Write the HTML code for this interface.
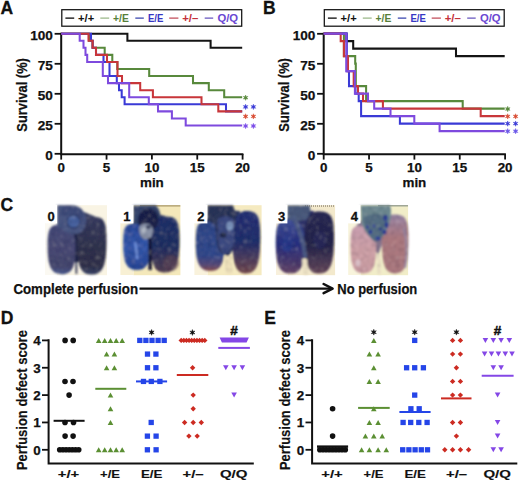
<!DOCTYPE html><html><head><meta charset="utf-8"><style>html,body{margin:0;padding:0;background:#fff;overflow:hidden}svg{display:block}text{font-family:"Liberation Sans",sans-serif;font-weight:bold}</style></head><body>
<svg width="520" height="482" viewBox="0 0 520 482">
<rect width="520" height="482" fill="#fff"/>
<text x="0.6" y="13.7" font-size="17.5" text-anchor="start" fill="#111" stroke="#111" stroke-width="0.3">A</text>
<rect x="61.8" y="9.7" width="179.9" height="16.5" fill="#fff" stroke="#111" stroke-width="1.25"/>
<rect x="65.4" y="17.45" width="8.8" height="1.35" fill="#151515"/>
<text x="78.1" y="21.5" font-size="10.4" text-anchor="start" fill="#111" textLength="16.1" lengthAdjust="spacingAndGlyphs">+/+</text>
<rect x="100.3" y="17.45" width="8.9" height="1.35" fill="#a2bd92"/>
<text x="113.0" y="21.5" font-size="10.4" text-anchor="start" fill="#577f3a" textLength="15.8" lengthAdjust="spacingAndGlyphs">+/E</text>
<rect x="135.3" y="17.45" width="8.5" height="1.35" fill="#4652b4"/>
<text x="148.0" y="21.5" font-size="10.4" text-anchor="start" fill="#3636c4" textLength="15.4" lengthAdjust="spacingAndGlyphs">E/E</text>
<rect x="169.2" y="17.45" width="9.2" height="1.35" fill="#c65a66"/>
<text x="182.2" y="21.5" font-size="10.4" text-anchor="start" fill="#c4303a" textLength="16.2" lengthAdjust="spacingAndGlyphs">+/–</text>
<rect x="204.7" y="17.45" width="8.5" height="1.35" fill="#7262c4"/>
<text x="217.4" y="21.5" font-size="10.4" text-anchor="start" fill="#6a48d2" textLength="20.7" lengthAdjust="spacingAndGlyphs">Q/Q</text>
<path d="M61.2,32.8 V154.2 H243.4" stroke="#111" stroke-width="2" fill="none"/>
<path d="M54.6,33.8 H61.2" stroke="#111" stroke-width="1.8"/>
<text x="52.9" y="39.8" font-size="13.6" text-anchor="end" fill="#111" stroke="#111" stroke-width="0.25">100</text>
<path d="M54.6,63.8 H61.2" stroke="#111" stroke-width="1.8"/>
<text x="52.9" y="69.8" font-size="13.6" text-anchor="end" fill="#111" stroke="#111" stroke-width="0.25">75</text>
<path d="M54.6,93.8 H61.2" stroke="#111" stroke-width="1.8"/>
<text x="52.9" y="99.8" font-size="13.6" text-anchor="end" fill="#111" stroke="#111" stroke-width="0.25">50</text>
<path d="M54.6,123.8 H61.2" stroke="#111" stroke-width="1.8"/>
<text x="52.9" y="129.8" font-size="13.6" text-anchor="end" fill="#111" stroke="#111" stroke-width="0.25">25</text>
<path d="M54.6,153.8 H61.2" stroke="#111" stroke-width="1.8"/>
<text x="52.9" y="159.8" font-size="13.6" text-anchor="end" fill="#111" stroke="#111" stroke-width="0.25">0</text>
<path d="M61.20,154 V159.6" stroke="#111" stroke-width="1.8"/>
<text x="61.2" y="171.9" font-size="13.4" text-anchor="middle" fill="#111" stroke="#111" stroke-width="0.25">0</text>
<path d="M106.55,154 V159.6" stroke="#111" stroke-width="1.8"/>
<text x="106.55000000000001" y="171.9" font-size="13.4" text-anchor="middle" fill="#111" stroke="#111" stroke-width="0.25">5</text>
<path d="M151.90,154 V159.6" stroke="#111" stroke-width="1.8"/>
<text x="151.9" y="171.9" font-size="13.4" text-anchor="middle" fill="#111" stroke="#111" stroke-width="0.25">10</text>
<path d="M197.25,154 V159.6" stroke="#111" stroke-width="1.8"/>
<text x="197.25" y="171.9" font-size="13.4" text-anchor="middle" fill="#111" stroke="#111" stroke-width="0.25">15</text>
<path d="M242.60,154 V159.6" stroke="#111" stroke-width="1.8"/>
<text x="242.60000000000002" y="171.9" font-size="13.4" text-anchor="middle" fill="#111" stroke="#111" stroke-width="0.25">20</text>
<text x="151.9" y="186.5" font-size="13.4" text-anchor="middle" fill="#111" stroke="#111" stroke-width="0.25">min</text>
<text transform="translate(26.5,94.9) rotate(-90)" font-size="13.8" text-anchor="middle" fill="#111" textLength="73.5" lengthAdjust="spacingAndGlyphs" stroke="#111" stroke-width="0.25">Survival (%)</text>
<path d="M61.2,33.70H127.4V40.76H210.6V47.82H242.2" stroke="#141414" stroke-width="2.05" fill="none" stroke-linejoin="miter" stroke-linecap="butt"/>
<path d="M61.2,33.70H89V40.76H92.6V47.82H104.7V54.88H112.3V61.94H117.3V68.99H149.2V76.05H193V83.11H208.8V90.17H224.2V97.23H242.2" stroke="#58893c" stroke-width="2.05" fill="none" stroke-linejoin="miter" stroke-linecap="butt"/>
<path d="M61.2,33.70H91V40.76H92.6V47.82H96V54.88H103.5V61.94H109.5V76.05H116.8V83.11H119V90.17H121.7V97.23H124.6V104.29H226V111.35H242.2" stroke="#3a3ad6" stroke-width="2.05" fill="none" stroke-linejoin="miter" stroke-linecap="butt"/>
<path d="M61.2,33.70H88.5V40.76H92.6V47.82H96V54.88H107V61.94H117.5V76.05H122V83.11H140.2V90.17H152.9V97.23H201.5V104.29H218.3V111.35H242.2" stroke="#c8363a" stroke-width="2.05" fill="none" stroke-linejoin="miter" stroke-linecap="butt"/>
<path d="M61.2,33.70H79.7V40.76H83.5V47.82H85.5V54.88H87.2V61.94H102.8V76.05H108V83.11H129.2V97.23H148.8V104.29H158V111.35H171.9V118.41H185.7V125.46H242.2" stroke="#7e4ade" stroke-width="2.05" fill="none" stroke-linejoin="miter" stroke-linecap="butt"/>
<polygon points="245.60,95.05 246.16,96.74 247.89,96.38 246.71,97.70 247.89,99.03 246.16,98.66 245.60,100.35 245.04,98.66 243.31,99.03 244.49,97.70 243.31,96.38 245.04,96.74" fill="#58893c" stroke="#58893c" stroke-width="0.5" stroke-linejoin="round"/>
<polygon points="245.60,104.25 246.16,105.94 247.89,105.58 246.71,106.90 247.89,108.23 246.16,107.86 245.60,109.55 245.04,107.86 243.31,108.23 244.49,106.90 243.31,105.58 245.04,105.94" fill="#3a3ad6" stroke="#3a3ad6" stroke-width="0.5" stroke-linejoin="round"/>
<polygon points="253.40,104.25 253.96,105.94 255.69,105.58 254.51,106.90 255.69,108.23 253.96,107.86 253.40,109.55 252.84,107.86 251.11,108.23 252.29,106.90 251.11,105.58 252.84,105.94" fill="#3a3ad6" stroke="#3a3ad6" stroke-width="0.5" stroke-linejoin="round"/>
<polygon points="245.60,113.75 246.16,115.44 247.89,115.08 246.71,116.40 247.89,117.73 246.16,117.36 245.60,119.05 245.04,117.36 243.31,117.73 244.49,116.40 243.31,115.08 245.04,115.44" fill="#d84a30" stroke="#d84a30" stroke-width="0.5" stroke-linejoin="round"/>
<polygon points="253.40,113.75 253.96,115.44 255.69,115.08 254.51,116.40 255.69,117.73 253.96,117.36 253.40,119.05 252.84,117.36 251.11,117.73 252.29,116.40 251.11,115.08 252.84,115.44" fill="#d84a30" stroke="#d84a30" stroke-width="0.5" stroke-linejoin="round"/>
<polygon points="245.60,123.35 246.16,125.04 247.89,124.67 246.71,126.00 247.89,127.33 246.16,126.96 245.60,128.65 245.04,126.96 243.31,127.33 244.49,126.00 243.31,124.67 245.04,125.04" fill="#7c4ee8" stroke="#7c4ee8" stroke-width="0.5" stroke-linejoin="round"/>
<polygon points="253.40,123.35 253.96,125.04 255.69,124.67 254.51,126.00 255.69,127.33 253.96,126.96 253.40,128.65 252.84,126.96 251.11,127.33 252.29,126.00 251.11,124.67 252.84,125.04" fill="#7c4ee8" stroke="#7c4ee8" stroke-width="0.5" stroke-linejoin="round"/>
<text x="263.1" y="13.7" font-size="17.5" text-anchor="start" fill="#111" stroke="#111" stroke-width="0.3">B</text>
<rect x="324.3" y="9.7" width="179.9" height="16.5" fill="#fff" stroke="#111" stroke-width="1.25"/>
<rect x="327.9" y="17.45" width="8.8" height="1.35" fill="#151515"/>
<text x="340.6" y="21.5" font-size="10.4" text-anchor="start" fill="#111" textLength="16.1" lengthAdjust="spacingAndGlyphs">+/+</text>
<rect x="362.8" y="17.45" width="8.9" height="1.35" fill="#a2bd92"/>
<text x="375.5" y="21.5" font-size="10.4" text-anchor="start" fill="#577f3a" textLength="15.8" lengthAdjust="spacingAndGlyphs">+/E</text>
<rect x="397.8" y="17.45" width="8.5" height="1.35" fill="#4652b4"/>
<text x="410.5" y="21.5" font-size="10.4" text-anchor="start" fill="#3636c4" textLength="15.4" lengthAdjust="spacingAndGlyphs">E/E</text>
<rect x="431.7" y="17.45" width="9.2" height="1.35" fill="#c65a66"/>
<text x="444.7" y="21.5" font-size="10.4" text-anchor="start" fill="#c4303a" textLength="16.2" lengthAdjust="spacingAndGlyphs">+/–</text>
<rect x="467.2" y="17.45" width="8.5" height="1.35" fill="#7262c4"/>
<text x="479.9" y="21.5" font-size="10.4" text-anchor="start" fill="#6a48d2" textLength="20.7" lengthAdjust="spacingAndGlyphs">Q/Q</text>
<path d="M323.7,32.8 V154.2 H505.9" stroke="#111" stroke-width="2" fill="none"/>
<path d="M317.1,33.8 H323.7" stroke="#111" stroke-width="1.8"/>
<text x="315.4" y="39.8" font-size="13.6" text-anchor="end" fill="#111" stroke="#111" stroke-width="0.25">100</text>
<path d="M317.1,63.8 H323.7" stroke="#111" stroke-width="1.8"/>
<text x="315.4" y="69.8" font-size="13.6" text-anchor="end" fill="#111" stroke="#111" stroke-width="0.25">75</text>
<path d="M317.1,93.8 H323.7" stroke="#111" stroke-width="1.8"/>
<text x="315.4" y="99.8" font-size="13.6" text-anchor="end" fill="#111" stroke="#111" stroke-width="0.25">50</text>
<path d="M317.1,123.8 H323.7" stroke="#111" stroke-width="1.8"/>
<text x="315.4" y="129.8" font-size="13.6" text-anchor="end" fill="#111" stroke="#111" stroke-width="0.25">25</text>
<path d="M317.1,153.8 H323.7" stroke="#111" stroke-width="1.8"/>
<text x="315.4" y="159.8" font-size="13.6" text-anchor="end" fill="#111" stroke="#111" stroke-width="0.25">0</text>
<path d="M323.70,154 V159.6" stroke="#111" stroke-width="1.8"/>
<text x="323.7" y="171.9" font-size="13.4" text-anchor="middle" fill="#111" stroke="#111" stroke-width="0.25">0</text>
<path d="M369.05,154 V159.6" stroke="#111" stroke-width="1.8"/>
<text x="369.05" y="171.9" font-size="13.4" text-anchor="middle" fill="#111" stroke="#111" stroke-width="0.25">5</text>
<path d="M414.40,154 V159.6" stroke="#111" stroke-width="1.8"/>
<text x="414.4" y="171.9" font-size="13.4" text-anchor="middle" fill="#111" stroke="#111" stroke-width="0.25">10</text>
<path d="M459.75,154 V159.6" stroke="#111" stroke-width="1.8"/>
<text x="459.75" y="171.9" font-size="13.4" text-anchor="middle" fill="#111" stroke="#111" stroke-width="0.25">15</text>
<path d="M505.10,154 V159.6" stroke="#111" stroke-width="1.8"/>
<text x="505.1" y="171.9" font-size="13.4" text-anchor="middle" fill="#111" stroke="#111" stroke-width="0.25">20</text>
<text x="414.4" y="186.5" font-size="13.4" text-anchor="middle" fill="#111" stroke="#111" stroke-width="0.25">min</text>
<text transform="translate(289.0,94.9) rotate(-90)" font-size="13.8" text-anchor="middle" fill="#111" textLength="73.5" lengthAdjust="spacingAndGlyphs" stroke="#111" stroke-width="0.25">Survival (%)</text>
<path d="M323.7,33.60H346.4V41.10H353.2V48.60H456V56.10H504.7" stroke="#141414" stroke-width="2.05" fill="none" stroke-linejoin="miter" stroke-linecap="butt"/>
<path d="M323.7,33.60H343.9V56.10H355.2V63.60H355.8V86.10H366.1V101.10H462.7V108.60H504.7" stroke="#58893c" stroke-width="2.05" fill="none" stroke-linejoin="miter" stroke-linecap="butt"/>
<path d="M323.7,33.60H346.8V71.10H349V86.10H355.5V93.60H358.7V101.10H361.1V116.10H399.9V123.60H504.7" stroke="#3a3ad6" stroke-width="2.05" fill="none" stroke-linejoin="miter" stroke-linecap="butt"/>
<path d="M323.7,33.60H340.7V41.10H343.9V56.10H348V71.10H353.7V86.10H358V93.60H363V101.10H382.9V108.60H480.7V116.10H504.7" stroke="#c8363a" stroke-width="2.05" fill="none" stroke-linejoin="miter" stroke-linecap="butt"/>
<path d="M323.7,33.60H346.3V71.10H354.9V93.60H368V101.10H374.2V108.60H390.5V116.10H414.3V123.60H439.6V131.10H504.7" stroke="#7e4ade" stroke-width="2.05" fill="none" stroke-linejoin="miter" stroke-linecap="butt"/>
<polygon points="507.70,106.35 508.26,108.04 509.99,107.67 508.81,109.00 509.99,110.33 508.26,109.96 507.70,111.65 507.14,109.96 505.41,110.33 506.59,109.00 505.41,107.67 507.14,108.04" fill="#58893c" stroke="#58893c" stroke-width="0.5" stroke-linejoin="round"/>
<polygon points="507.70,113.75 508.26,115.44 509.99,115.08 508.81,116.40 509.99,117.73 508.26,117.36 507.70,119.05 507.14,117.36 505.41,117.73 506.59,116.40 505.41,115.08 507.14,115.44" fill="#d84a30" stroke="#d84a30" stroke-width="0.5" stroke-linejoin="round"/>
<polygon points="515.60,113.75 516.16,115.44 517.89,115.08 516.71,116.40 517.89,117.73 516.16,117.36 515.60,119.05 515.04,117.36 513.31,117.73 514.49,116.40 513.31,115.08 515.04,115.44" fill="#d84a30" stroke="#d84a30" stroke-width="0.5" stroke-linejoin="round"/>
<polygon points="507.70,120.95 508.26,122.64 509.99,122.27 508.81,123.60 509.99,124.92 508.26,124.56 507.70,126.25 507.14,124.56 505.41,124.92 506.59,123.60 505.41,122.27 507.14,122.64" fill="#3a3ad6" stroke="#3a3ad6" stroke-width="0.5" stroke-linejoin="round"/>
<polygon points="515.60,120.95 516.16,122.64 517.89,122.27 516.71,123.60 517.89,124.92 516.16,124.56 515.60,126.25 515.04,124.56 513.31,124.92 514.49,123.60 513.31,122.27 515.04,122.64" fill="#3a3ad6" stroke="#3a3ad6" stroke-width="0.5" stroke-linejoin="round"/>
<polygon points="507.70,128.55 508.26,130.24 509.99,129.88 508.81,131.20 509.99,132.52 508.26,132.16 507.70,133.85 507.14,132.16 505.41,132.52 506.59,131.20 505.41,129.88 507.14,130.24" fill="#6a56e8" stroke="#6a56e8" stroke-width="0.5" stroke-linejoin="round"/>
<polygon points="515.60,128.55 516.16,130.24 517.89,129.88 516.71,131.20 517.89,132.52 516.16,132.16 515.60,133.85 515.04,132.16 513.31,132.52 514.49,131.20 513.31,129.88 515.04,130.24" fill="#6a56e8" stroke="#6a56e8" stroke-width="0.5" stroke-linejoin="round"/>
<defs>
<filter id="bl" x="-10%" y="-10%" width="120%" height="120%"><feTurbulence type="fractalNoise" baseFrequency="0.25" numOctaves="3" seed="7" result="n"/><feColorMatrix in="n" type="matrix" values="0 0 0 0 1 0 0 0 0 1 0 0 0 0 1 0.35 0 0 0 -0.2" result="nw"/><feComposite in="nw" in2="SourceGraphic" operator="in" result="sp"/><feColorMatrix in="n" type="matrix" values="0 0 0 0 0 0 0 0 0 0 0 0 0 0 0.05 0 0.6 0 0 -0.22" result="nk"/><feComposite in="nk" in2="SourceGraphic" operator="in" result="sk"/><feMerge result="m"><feMergeNode in="SourceGraphic"/><feMergeNode in="sp"/><feMergeNode in="sk"/></feMerge><feGaussianBlur in="m" stdDeviation="0.8"/></filter>
<filter id="bl2" x="-50%" y="-50%" width="200%" height="200%"><feGaussianBlur stdDeviation="1.6"/></filter>
<linearGradient id="g0L" x1="0" y1="0" x2="0" y2="1"><stop offset="0" stop-color="#474c7a"/><stop offset="0.5" stop-color="#484a74"/><stop offset="0.85" stop-color="#46486e"/><stop offset="1" stop-color="#4a5a92"/></linearGradient>
<linearGradient id="g0R" x1="0" y1="0" x2="0" y2="1"><stop offset="0" stop-color="#383c60"/><stop offset="0.5" stop-color="#32344e"/><stop offset="0.85" stop-color="#30324a"/><stop offset="1" stop-color="#3a4468"/></linearGradient>
<linearGradient id="g1L" x1="0" y1="0" x2="0" y2="1"><stop offset="0" stop-color="#2c4a9a"/><stop offset="0.5" stop-color="#3558ac"/><stop offset="1" stop-color="#2a4896"/></linearGradient>
<linearGradient id="g1R" x1="0" y1="0" x2="0" y2="1"><stop offset="0" stop-color="#24326a"/><stop offset="0.55" stop-color="#243062"/><stop offset="1" stop-color="#544050"/></linearGradient>
<linearGradient id="g2L" x1="0" y1="0" x2="0" y2="1"><stop offset="0" stop-color="#30488a"/><stop offset="0.68" stop-color="#32488c"/><stop offset="0.88" stop-color="#5a4c78"/><stop offset="1" stop-color="#8a5050"/></linearGradient>
<linearGradient id="g2R" x1="0" y1="0" x2="0" y2="1"><stop offset="0" stop-color="#263476"/><stop offset="0.5" stop-color="#24306c"/><stop offset="0.75" stop-color="#4e3e5e"/><stop offset="1" stop-color="#764a4c"/></linearGradient>
<linearGradient id="g3L" x1="0" y1="0" x2="0" y2="1"><stop offset="0" stop-color="#44549a"/><stop offset="0.45" stop-color="#283080"/><stop offset="0.78" stop-color="#4a3a6e"/><stop offset="1" stop-color="#684868"/></linearGradient>
<linearGradient id="g3R" x1="0" y1="0" x2="0" y2="1"><stop offset="0" stop-color="#2a2a54"/><stop offset="0.55" stop-color="#26264a"/><stop offset="0.8" stop-color="#4a3a54"/><stop offset="1" stop-color="#684858"/></linearGradient>
<linearGradient id="g4L" x1="0" y1="0" x2="0" y2="1"><stop offset="0" stop-color="#c89eb0"/><stop offset="0.5" stop-color="#d0a2a8"/><stop offset="1" stop-color="#cc9ea4"/></linearGradient>
<linearGradient id="g4R" x1="0" y1="0" x2="0" y2="1"><stop offset="0" stop-color="#9a86a6"/><stop offset="0.4" stop-color="#ae7a80"/><stop offset="1" stop-color="#aa787e"/></linearGradient>
</defs>
<rect x="57" y="205.2" width="50" height="70" fill="#f9f4e4"/>
<rect x="133.4" y="205.2" width="47" height="70" fill="#f4e8ba"/>
<rect x="207.4" y="205.2" width="54.2" height="70" fill="#f5eac0"/>
<rect x="287.4" y="205.2" width="47.7" height="70" fill="#f3e9cc"/>
<rect x="360.4" y="205.2" width="47.7" height="70" fill="#f1edc8"/>
<rect x="45" y="223" width="12" height="52" fill="#fbf9f2"/>
<rect x="120.4" y="223" width="13" height="52" fill="#f8f0d4"/>
<rect x="194.4" y="223" width="13" height="52" fill="#f9f2dc"/>
<rect x="276" y="223" width="11.4" height="52" fill="#f8f0dc"/>
<rect x="348.2" y="223" width="12.2" height="52" fill="#f8f4dc"/>
<path d="M140,205.8H180.3" stroke="#a89868" stroke-width="1.2"/>
<path d="M305,206H335" stroke="#6a6050" stroke-width="1" stroke-dasharray="1 1"/>
<path d="M378,205.8H408" stroke="#8a9488" stroke-width="1.2"/>
<g filter="url(#bl)">
<polygon points="60,222 70,212 84,212 95,216.5 90,240 77,262 70,240" fill="#3a4064"/>
<polygon points="130,226 148,212 165,216 160,240 150,265 140,240" fill="#1e2a5a"/>
<polygon points="203,222 220,210 240,211 236,245 228,257 215,245" fill="#2c3460"/>
<polygon points="283,223 296,210 314,211 310,245 305,258 296,245" fill="#30346a"/>
<polygon points="356,226 370,212 387,214 384,240 378,255 370,240" fill="#8a7890"/>
<path d="M70,228 L84,226 L80,262 L74,262Z" fill="#22284a"/>
<path d="M61.0,224.5C50.3,224.5 47.6,227.6 47.6,245.4C47.6,265.0 50.4,274.2 61.6,274.2C72.1,274.2 75.6,267.4 75.6,246.9C75.6,231.2 69.8,224.5 61.0,224.5Z" fill="url(#g0L)"/>
<path d="M93.5,216.8C103.8,216.8 106.4,220.4 106.4,241.1C106.4,263.9 103.5,274.6 91.8,274.6C80.9,274.6 77.2,266.7 77.2,242.8C77.2,224.6 83.7,216.8 93.5,216.8Z" fill="url(#g0R)"/>
<path d="M57.2,205.3 L73,205.3 C80.5,206 85.5,212 86.3,220 C86.5,226 83.5,231 79,233.5 L70,234.5 C64,232.5 60,229 57.2,225Z" fill="#4a5682"/>
<path d="M62,207 C70,206 78,207 83,213 L84,222 C78,216 68,214 62,216Z" fill="#3c4a78" opacity=".7"/>
<circle cx="73.5" cy="221.5" r="7.2" fill="#2e3a66"/>
<circle cx="73.5" cy="221.5" r="6.0" fill="#4a64a0"/>
<path d="M76.2,234 L76.4,274" stroke="#24284a" stroke-width="1.6"/>
<path d="M133.4,205.5 L156,205.5 C162,211 162,224 158,231 L152,242 L146,242 L133.4,232Z" fill="#34446c"/>
<path d="M134.0,223.8C125.4,223.8 123.2,226.7 123.2,243.2C123.2,261.4 125.9,270.0 136.8,270.0C147.0,270.0 150.4,263.6 150.4,244.6C150.4,230.0 143.8,223.8 134.0,223.8Z" fill="url(#g1L)"/>
<path d="M165.0,216.4C176.5,216.4 179.4,219.9 179.4,240.0C179.4,262.1 176.5,272.5 165.0,272.5C154.2,272.5 150.6,264.8 150.6,241.6C150.6,224.0 156.4,216.4 165.0,216.4Z" fill="url(#g1R)"/>
<ellipse cx="171" cy="263" rx="8" ry="8" fill="#604654" opacity=".55"/>
<path d="M138,221 C138,213 143,208.5 148.5,208.5 C154,208.5 158.5,213 158.5,221 C158.5,226 154,229.5 148.5,229.5 C143,229.5 138,226 138,221Z" fill="#1a2248"/>
<path d="M139,229 C139,225 142,223.5 146,223.5 C150,223.5 153,226 153,231 C153,236 150,239.5 146,239.5 C142,239.5 139,235 139,229Z" fill="#8a93a8"/>
<ellipse cx="144" cy="230" rx="2.4" ry="2.8" fill="#b8c0cc"/>
<ellipse cx="148.5" cy="227" rx="2.6" ry="2" fill="#3a4260"/>
<path d="M149.8,238 L150.2,270" stroke="#141830" stroke-width="3.2"/>
<path d="M135.3,242 L137.3,259" stroke="#7090da" stroke-width="2.4" fill="none"/>
<path d="M207.0,221.4C198.0,221.4 195.8,224.5 195.8,242.2C195.8,261.8 198.7,271.0 210.1,271.0C220.8,271.0 224.4,264.2 224.4,243.7C224.4,228.1 217.4,221.4 207.0,221.4Z" fill="url(#g2L)"/>
<path d="M246.0,211.0C257.4,211.0 260.2,214.9 260.2,237.3C260.2,262.0 257.4,273.6 246.3,273.6C236.0,273.6 232.5,265.0 232.5,239.2C232.5,219.5 237.9,211.0 246.0,211.0Z" fill="url(#g2R)"/>
<path d="M207.4,205.4 L233,205.4 C236,211 235.5,220 234.5,226 L234,244 C232,251 228,254.5 224,254.5 C219,253 216.5,246 216.3,236 L215,224 C212,223 209,222 207.4,221Z" fill="#2c3458"/>
<path d="M217.5,220 C221,215 230,215 234,220 L234,242 C232,250 228,254 224,254 C220,251 217.5,244 217.5,236Z" fill="#3e4c82"/>
<ellipse cx="229.8" cy="226" rx="3.6" ry="4.6" fill="#8098c0"/>
<ellipse cx="223" cy="235" rx="3.4" ry="2.6" fill="#222a48"/>
<path d="M224.4,256 C225,264 225.5,270 226,274 L232.5,274 C232.2,268 232,262 232,256Z" fill="#f0e2bc"/>
<path d="M291.0,219.5C278.8,219.5 275.8,222.9 275.8,242.2C275.8,263.6 278.7,273.6 290.2,273.6C301.0,273.6 304.6,266.2 304.6,243.8C304.6,226.8 299.2,219.5 291.0,219.5Z" fill="url(#g3L)"/>
<path d="M318.0,211.4C330.8,211.4 334.0,215.3 334.0,237.5C334.0,262.1 331.0,273.6 319.2,273.6C308.1,273.6 304.4,265.0 304.4,239.4C304.4,219.8 309.8,211.4 318.0,211.4Z" fill="url(#g3R)"/>
<path d="M287.4,205.5 L309.5,205.5 C311,209 310,215 307,219 C301,222 292,221.5 287.4,219Z" fill="#4c5c7e"/>
<path d="M293,217 C299,228 304,242 305.3,258" stroke="#4e5c86" stroke-width="4.2" fill="none"/>
<path d="M302,259 C302.5,266 303,271 303.5,274.5 L308.2,274.5 C307.8,270 307.6,265 307.2,259Z" fill="#efe4c6"/>
<ellipse cx="320" cy="240" rx="7" ry="9" fill="#2a2c5c" opacity=".8"/>
<ellipse cx="287" cy="244" rx="6" ry="8" fill="#2c3c8c" opacity=".8"/>
<path d="M360.0,226.0C352.4,226.0 350.5,229.0 350.5,245.9C350.5,264.6 353.1,273.4 363.2,273.4C372.8,273.4 376.0,266.9 376.0,247.3C376.0,232.4 369.6,226.0 360.0,226.0Z" fill="url(#g4L)"/>
<path d="M394.0,214.6C405.5,214.6 408.4,218.3 408.4,239.3C408.4,262.5 405.8,273.4 395.2,273.4C385.3,273.4 382.0,265.3 382.0,241.1C382.0,222.5 386.8,214.6 394.0,214.6Z" fill="url(#g4R)"/>
<path d="M404,228 C407,240 407.5,256 405,268" stroke="#9a90b0" stroke-width="2.5" fill="none" opacity=".7"/>
<ellipse cx="358" cy="263" rx="2.6" ry="3.5" fill="#e0c8d0" opacity=".8"/>
<path d="M360.5,205.5 L390,205.5 C392,211 391,219 388.5,226 C385,234 381,240 376,242 C370,239 364.5,231 361.5,223Z" fill="#6e8a92"/>
<path d="M363,218 C369,213.5 382,212.5 388,217 C387.5,227 383,236 376,242 C370,239 365.5,231 363,218Z" fill="#4e6680" opacity=".8"/>
<ellipse cx="385.5" cy="218" rx="2.2" ry="3" fill="#2c3c98"/>
<ellipse cx="386.5" cy="225" rx="1.8" ry="3.2" fill="#2c3c98"/>
<ellipse cx="384.5" cy="232" rx="2" ry="2.6" fill="#2c3c98"/>
<ellipse cx="378" cy="238.5" rx="2.6" ry="2" fill="#2c3c98"/>
<ellipse cx="370.5" cy="232" rx="1.8" ry="2.2" fill="#2c3c98"/>
<ellipse cx="367.5" cy="227" rx="1.5" ry="1.8" fill="#2c3c98"/>
<ellipse cx="380.5" cy="229" rx="1.6" ry="1.6" fill="#2c3c98"/>
<ellipse cx="374" cy="226" rx="1.4" ry="1.4" fill="#2c3c98"/>
<path d="M376.3,254 C377,264 377.5,270 378,274.5 L381.5,274.5 C381,268 380.6,262 380.2,254Z" fill="#eee4c8"/>
</g>
<rect x="45.3" y="205" width="11.8" height="18.4" fill="#fff"/>
<text x="51.20" y="221" font-size="13" text-anchor="middle" fill="#111" stroke="#111" stroke-width="0.3">0</text>
<rect x="120.4" y="205" width="13" height="18.4" fill="#fff"/>
<text x="126.90" y="221" font-size="13" text-anchor="middle" fill="#111" stroke="#111" stroke-width="0.3">1</text>
<rect x="194.4" y="205" width="13" height="18.4" fill="#fff"/>
<text x="200.90" y="221" font-size="13" text-anchor="middle" fill="#111" stroke="#111" stroke-width="0.3">2</text>
<rect x="276" y="205" width="11.4" height="18.4" fill="#fff"/>
<text x="281.70" y="221" font-size="13" text-anchor="middle" fill="#111" stroke="#111" stroke-width="0.3">3</text>
<rect x="348.2" y="205" width="12.2" height="18.4" fill="#fff"/>
<text x="354.30" y="221" font-size="13" text-anchor="middle" fill="#111" stroke="#111" stroke-width="0.3">4</text>
<text x="0.6" y="211.2" font-size="17.5" fill="#111" stroke="#111" stroke-width="0.3">C</text>
<text x="13.4" y="293.9" font-size="14.6" fill="#111" textLength="124.6" lengthAdjust="spacingAndGlyphs" stroke="#111" stroke-width="0.25">Complete perfusion</text>
<path d="M139.5,288.6 H331" stroke="#111" stroke-width="2.3"/>
<path d="M323.6,284 L332.6,288.6 L323.6,293.2" stroke="#111" stroke-width="2.5" fill="none" stroke-linecap="round" stroke-linejoin="round"/>
<text x="337.3" y="293.7" font-size="14.6" fill="#111" textLength="80" lengthAdjust="spacingAndGlyphs" stroke="#111" stroke-width="0.25">No perfusion</text>
<text x="0.70" y="323.80" font-size="17.5" text-anchor="start" fill="#111" stroke="#111" stroke-width="0.3">D</text>
<path d="M48.6,339.2 V463.6 H253.8" stroke="#111" stroke-width="2" fill="none"/>
<path d="M42,449.80 H48.6" stroke="#111" stroke-width="1.8"/>
<text x="40.60" y="454.60" font-size="13.4" text-anchor="end" fill="#111" stroke="#111" stroke-width="0.25">0</text>
<path d="M42,422.45 H48.6" stroke="#111" stroke-width="1.8"/>
<text x="40.60" y="427.25" font-size="13.4" text-anchor="end" fill="#111" stroke="#111" stroke-width="0.25">1</text>
<path d="M42,395.10 H48.6" stroke="#111" stroke-width="1.8"/>
<text x="40.60" y="399.90" font-size="13.4" text-anchor="end" fill="#111" stroke="#111" stroke-width="0.25">2</text>
<path d="M42,367.75 H48.6" stroke="#111" stroke-width="1.8"/>
<text x="40.60" y="372.55" font-size="13.4" text-anchor="end" fill="#111" stroke="#111" stroke-width="0.25">3</text>
<path d="M42,340.40 H48.6" stroke="#111" stroke-width="1.8"/>
<text x="40.60" y="345.20" font-size="13.4" text-anchor="end" fill="#111" stroke="#111" stroke-width="0.25">4</text>
<text transform="translate(26.6,400.1) rotate(-90)" font-size="14.2" text-anchor="middle" fill="#111" textLength="140" lengthAdjust="spacingAndGlyphs" stroke="#111" stroke-width="0.2">Perfusion defect score</text>
<text x="68.50" y="477.80" font-size="11.6" text-anchor="middle" fill="#111" textLength="21.5" lengthAdjust="spacingAndGlyphs" stroke="#111" stroke-width="0.15">+/+</text>
<text x="110.10" y="477.80" font-size="11.6" text-anchor="middle" fill="#111" textLength="20" lengthAdjust="spacingAndGlyphs" stroke="#111" stroke-width="0.15">+/E</text>
<text x="151.70" y="477.80" font-size="11.6" text-anchor="middle" fill="#111" textLength="21.5" lengthAdjust="spacingAndGlyphs" stroke="#111" stroke-width="0.15">E/E</text>
<text x="193.10" y="477.80" font-size="11.6" text-anchor="middle" fill="#111" textLength="21.2" lengthAdjust="spacingAndGlyphs" stroke="#111" stroke-width="0.15">+/–</text>
<text x="233.70" y="477.80" font-size="11.6" text-anchor="middle" fill="#111" textLength="27.5" lengthAdjust="spacingAndGlyphs" stroke="#111" stroke-width="0.15">Q/Q</text>
<circle cx="65.10" cy="340.40" r="2.8" fill="#111"/>
<circle cx="73.20" cy="340.40" r="2.8" fill="#111"/>
<circle cx="65.00" cy="381.43" r="2.8" fill="#111"/>
<circle cx="73.00" cy="381.43" r="2.8" fill="#111"/>
<circle cx="69.10" cy="395.10" r="2.8" fill="#111"/>
<circle cx="65.00" cy="422.45" r="2.8" fill="#111"/>
<circle cx="73.50" cy="422.45" r="2.8" fill="#111"/>
<circle cx="65.10" cy="436.12" r="2.8" fill="#111"/>
<circle cx="73.10" cy="436.12" r="2.8" fill="#111"/>
<circle cx="59.70" cy="449.80" r="2.8" fill="#111"/>
<circle cx="62.87" cy="449.80" r="2.8" fill="#111"/>
<circle cx="66.04" cy="449.80" r="2.8" fill="#111"/>
<circle cx="69.21" cy="449.80" r="2.8" fill="#111"/>
<circle cx="72.38" cy="449.80" r="2.8" fill="#111"/>
<circle cx="75.55" cy="449.80" r="2.8" fill="#111"/>
<circle cx="78.72" cy="449.80" r="2.8" fill="#111"/>
<path d="M53.60,420.80H84.60" stroke="#111" stroke-width="2.0"/>
<path d="M95.90,342.90L101.50,342.90L98.70,337.90Z" fill="#5b8f33"/>
<path d="M101.90,342.90L107.50,342.90L104.70,337.90Z" fill="#5b8f33"/>
<path d="M107.70,342.90L113.30,342.90L110.50,337.90Z" fill="#5b8f33"/>
<path d="M113.40,342.90L119.00,342.90L116.20,337.90Z" fill="#5b8f33"/>
<path d="M119.40,342.90L125.00,342.90L122.20,337.90Z" fill="#5b8f33"/>
<path d="M103.80,356.57L109.40,356.57L106.60,351.57Z" fill="#5b8f33"/>
<path d="M111.60,356.57L117.20,356.57L114.40,351.57Z" fill="#5b8f33"/>
<path d="M103.80,370.25L109.40,370.25L106.60,365.25Z" fill="#5b8f33"/>
<path d="M111.60,370.25L117.20,370.25L114.40,365.25Z" fill="#5b8f33"/>
<path d="M107.70,397.60L113.30,397.60L110.50,392.60Z" fill="#5b8f33"/>
<path d="M107.70,411.27L113.30,411.27L110.50,406.27Z" fill="#5b8f33"/>
<path d="M107.70,424.95L113.30,424.95L110.50,419.95Z" fill="#5b8f33"/>
<path d="M95.90,452.30L101.50,452.30L98.70,447.30Z" fill="#5b8f33"/>
<path d="M101.90,452.30L107.50,452.30L104.70,447.30Z" fill="#5b8f33"/>
<path d="M107.70,452.30L113.30,452.30L110.50,447.30Z" fill="#5b8f33"/>
<path d="M113.40,452.30L119.00,452.30L116.20,447.30Z" fill="#5b8f33"/>
<path d="M119.40,452.30L125.00,452.30L122.20,447.30Z" fill="#5b8f33"/>
<path d="M95.30,388.80H126.30" stroke="#5b8f33" stroke-width="2.0"/>
<rect x="137.15" y="337.75" width="5.3" height="5.3" fill="#2545e8"/>
<rect x="143.25" y="337.75" width="5.3" height="5.3" fill="#2545e8"/>
<rect x="149.35" y="337.75" width="5.3" height="5.3" fill="#2545e8"/>
<rect x="155.45" y="337.75" width="5.3" height="5.3" fill="#2545e8"/>
<rect x="161.55" y="337.75" width="5.3" height="5.3" fill="#2545e8"/>
<rect x="144.85" y="351.43" width="5.3" height="5.3" fill="#2545e8"/>
<rect x="153.25" y="351.43" width="5.3" height="5.3" fill="#2545e8"/>
<rect x="144.85" y="365.10" width="5.3" height="5.3" fill="#2545e8"/>
<rect x="153.25" y="365.10" width="5.3" height="5.3" fill="#2545e8"/>
<rect x="148.55" y="419.80" width="5.3" height="5.3" fill="#2545e8"/>
<rect x="144.75" y="433.48" width="5.3" height="5.3" fill="#2545e8"/>
<rect x="153.45" y="433.48" width="5.3" height="5.3" fill="#2545e8"/>
<rect x="144.75" y="447.15" width="5.3" height="5.3" fill="#2545e8"/>
<rect x="153.45" y="447.15" width="5.3" height="5.3" fill="#2545e8"/>
<path d="M136.00,381.43H167.10" stroke="#2545e8" stroke-width="2.0"/>
<rect x="140.85" y="378.78" width="5.3" height="5.3" fill="#2545e8"/>
<rect x="148.65" y="378.78" width="5.3" height="5.3" fill="#2545e8"/>
<rect x="157.25" y="378.78" width="5.3" height="5.3" fill="#2545e8"/>
<polygon points="151.60,329.50 152.21,331.35 154.11,330.95 152.82,332.40 154.11,333.85 152.21,333.45 151.60,335.30 150.99,333.45 149.09,333.85 150.38,332.40 149.09,330.95 150.99,331.35" fill="#111" stroke="#111" stroke-width="0.5" stroke-linejoin="round"/>
<path d="M181.20,337.70L183.90,340.40L181.20,343.10L178.50,340.40Z" fill="#cc2b22"/>
<path d="M183.82,337.70L186.52,340.40L183.82,343.10L181.12,340.40Z" fill="#cc2b22"/>
<path d="M186.44,337.70L189.14,340.40L186.44,343.10L183.74,340.40Z" fill="#cc2b22"/>
<path d="M189.06,337.70L191.76,340.40L189.06,343.10L186.36,340.40Z" fill="#cc2b22"/>
<path d="M191.68,337.70L194.38,340.40L191.68,343.10L188.98,340.40Z" fill="#cc2b22"/>
<path d="M194.30,337.70L197.00,340.40L194.30,343.10L191.60,340.40Z" fill="#cc2b22"/>
<path d="M196.92,337.70L199.62,340.40L196.92,343.10L194.22,340.40Z" fill="#cc2b22"/>
<path d="M199.54,337.70L202.24,340.40L199.54,343.10L196.84,340.40Z" fill="#cc2b22"/>
<path d="M202.16,337.70L204.86,340.40L202.16,343.10L199.46,340.40Z" fill="#cc2b22"/>
<path d="M204.78,337.70L207.48,340.40L204.78,343.10L202.08,340.40Z" fill="#cc2b22"/>
<path d="M192.60,365.05L195.30,367.75L192.60,370.45L189.90,367.75Z" fill="#cc2b22"/>
<path d="M193.20,392.40L195.90,395.10L193.20,397.80L190.50,395.10Z" fill="#cc2b22"/>
<path d="M193.20,406.07L195.90,408.77L193.20,411.47L190.50,408.77Z" fill="#cc2b22"/>
<path d="M184.60,419.75L187.30,422.45L184.60,425.15L181.90,422.45Z" fill="#cc2b22"/>
<path d="M193.20,419.75L195.90,422.45L193.20,425.15L190.50,422.45Z" fill="#cc2b22"/>
<path d="M201.30,419.75L204.00,422.45L201.30,425.15L198.60,422.45Z" fill="#cc2b22"/>
<path d="M188.90,433.43L191.60,436.12L188.90,438.82L186.20,436.12Z" fill="#cc2b22"/>
<path d="M197.20,433.43L199.90,436.12L197.20,438.82L194.50,436.12Z" fill="#cc2b22"/>
<path d="M176.80,375.00H208.30" stroke="#cc2b22" stroke-width="2.0"/>
<polygon points="192.40,329.60 193.01,331.45 194.91,331.05 193.62,332.50 194.91,333.95 193.01,333.55 192.40,335.40 191.79,333.55 189.89,333.95 191.18,332.50 189.89,331.05 191.79,331.45" fill="#111" stroke="#111" stroke-width="0.5" stroke-linejoin="round"/>
<path d="M219.6,337.5 H248.9 L246.6,342.5 H221.9Z" fill="#8447e6"/>
<path d="M223.00,365.25L228.60,365.25L225.80,370.25Z" fill="#8447e6"/>
<path d="M231.30,365.25L236.90,365.25L234.10,370.25Z" fill="#8447e6"/>
<path d="M239.60,365.25L245.20,365.25L242.40,370.25Z" fill="#8447e6"/>
<path d="M231.30,392.60L236.90,392.60L234.10,397.60Z" fill="#8447e6"/>
<path d="M218.30,347.90H249.90" stroke="#8447e6" stroke-width="2.0"/>
<text x="233.90" y="334.70" font-size="13.5" text-anchor="middle" fill="#111" stroke="#111" stroke-width="0.5">#</text>
<text x="264.20" y="323.80" font-size="17.5" text-anchor="start" fill="#111" stroke="#111" stroke-width="0.3">E</text>
<path d="M312.1,339.2 V463.6 H517.3" stroke="#111" stroke-width="2" fill="none"/>
<path d="M305.5,449.80 H312.1" stroke="#111" stroke-width="1.8"/>
<text x="304.10" y="454.60" font-size="13.4" text-anchor="end" fill="#111" stroke="#111" stroke-width="0.25">0</text>
<path d="M305.5,422.45 H312.1" stroke="#111" stroke-width="1.8"/>
<text x="304.10" y="427.25" font-size="13.4" text-anchor="end" fill="#111" stroke="#111" stroke-width="0.25">1</text>
<path d="M305.5,395.10 H312.1" stroke="#111" stroke-width="1.8"/>
<text x="304.10" y="399.90" font-size="13.4" text-anchor="end" fill="#111" stroke="#111" stroke-width="0.25">2</text>
<path d="M305.5,367.75 H312.1" stroke="#111" stroke-width="1.8"/>
<text x="304.10" y="372.55" font-size="13.4" text-anchor="end" fill="#111" stroke="#111" stroke-width="0.25">3</text>
<path d="M305.5,340.40 H312.1" stroke="#111" stroke-width="1.8"/>
<text x="304.10" y="345.20" font-size="13.4" text-anchor="end" fill="#111" stroke="#111" stroke-width="0.25">4</text>
<text transform="translate(290.1,400.1) rotate(-90)" font-size="14.2" text-anchor="middle" fill="#111" textLength="140" lengthAdjust="spacingAndGlyphs" stroke="#111" stroke-width="0.2">Perfusion defect score</text>
<text x="332.00" y="477.80" font-size="11.6" text-anchor="middle" fill="#111" textLength="21.5" lengthAdjust="spacingAndGlyphs" stroke="#111" stroke-width="0.15">+/+</text>
<text x="373.60" y="477.80" font-size="11.6" text-anchor="middle" fill="#111" textLength="20" lengthAdjust="spacingAndGlyphs" stroke="#111" stroke-width="0.15">+/E</text>
<text x="415.20" y="477.80" font-size="11.6" text-anchor="middle" fill="#111" textLength="21.5" lengthAdjust="spacingAndGlyphs" stroke="#111" stroke-width="0.15">E/E</text>
<text x="456.60" y="477.80" font-size="11.6" text-anchor="middle" fill="#111" textLength="21.2" lengthAdjust="spacingAndGlyphs" stroke="#111" stroke-width="0.15">+/–</text>
<text x="497.20" y="477.80" font-size="11.6" text-anchor="middle" fill="#111" textLength="27.5" lengthAdjust="spacingAndGlyphs" stroke="#111" stroke-width="0.15">Q/Q</text>
<circle cx="332.60" cy="408.77" r="2.8" fill="#111"/>
<circle cx="332.60" cy="436.12" r="2.8" fill="#111"/>
<circle cx="319.80" cy="449.80" r="2.8" fill="#111"/>
<circle cx="322.99" cy="449.80" r="2.8" fill="#111"/>
<circle cx="326.18" cy="449.80" r="2.8" fill="#111"/>
<circle cx="329.37" cy="449.80" r="2.8" fill="#111"/>
<circle cx="332.56" cy="449.80" r="2.8" fill="#111"/>
<circle cx="335.75" cy="449.80" r="2.8" fill="#111"/>
<circle cx="338.94" cy="449.80" r="2.8" fill="#111"/>
<circle cx="342.13" cy="449.80" r="2.8" fill="#111"/>
<circle cx="345.32" cy="449.80" r="2.8" fill="#111"/>
<path d="M317.00,446.60H348.10" stroke="#111" stroke-width="2.4"/>
<path d="M371.00,342.90L376.60,342.90L373.80,337.90Z" fill="#5b8f33"/>
<path d="M366.60,356.57L372.20,356.57L369.40,351.57Z" fill="#5b8f33"/>
<path d="M375.30,356.57L380.90,356.57L378.10,351.57Z" fill="#5b8f33"/>
<path d="M371.00,370.25L376.60,370.25L373.80,365.25Z" fill="#5b8f33"/>
<path d="M366.60,383.93L372.20,383.93L369.40,378.93Z" fill="#5b8f33"/>
<path d="M375.30,383.93L380.90,383.93L378.10,378.93Z" fill="#5b8f33"/>
<path d="M371.00,411.27L376.60,411.27L373.80,406.27Z" fill="#5b8f33"/>
<path d="M366.60,424.95L372.20,424.95L369.40,419.95Z" fill="#5b8f33"/>
<path d="M375.30,424.95L380.90,424.95L378.10,419.95Z" fill="#5b8f33"/>
<path d="M362.60,438.62L368.20,438.62L365.40,433.62Z" fill="#5b8f33"/>
<path d="M371.00,438.62L376.60,438.62L373.80,433.62Z" fill="#5b8f33"/>
<path d="M379.40,438.62L385.00,438.62L382.20,433.62Z" fill="#5b8f33"/>
<path d="M358.80,452.30L364.40,452.30L361.60,447.30Z" fill="#5b8f33"/>
<path d="M366.60,452.30L372.20,452.30L369.40,447.30Z" fill="#5b8f33"/>
<path d="M375.30,452.30L380.90,452.30L378.10,447.30Z" fill="#5b8f33"/>
<path d="M383.50,452.30L389.10,452.30L386.30,447.30Z" fill="#5b8f33"/>
<path d="M358.10,407.90H389.70" stroke="#5b8f33" stroke-width="2.0"/>
<polygon points="373.80,329.30 374.41,331.15 376.31,330.75 375.02,332.20 376.31,333.65 374.41,333.25 373.80,335.10 373.19,333.25 371.29,333.65 372.58,332.20 371.29,330.75 373.19,331.15" fill="#111" stroke="#111" stroke-width="0.5" stroke-linejoin="round"/>
<rect x="412.05" y="337.75" width="5.3" height="5.3" fill="#2545e8"/>
<rect x="403.95" y="365.10" width="5.3" height="5.3" fill="#2545e8"/>
<rect x="412.05" y="365.10" width="5.3" height="5.3" fill="#2545e8"/>
<rect x="420.75" y="365.10" width="5.3" height="5.3" fill="#2545e8"/>
<rect x="412.05" y="392.45" width="5.3" height="5.3" fill="#2545e8"/>
<rect x="408.25" y="406.12" width="5.3" height="5.3" fill="#2545e8"/>
<rect x="416.55" y="406.12" width="5.3" height="5.3" fill="#2545e8"/>
<rect x="400.45" y="419.80" width="5.3" height="5.3" fill="#2545e8"/>
<rect x="408.05" y="419.80" width="5.3" height="5.3" fill="#2545e8"/>
<rect x="416.15" y="419.80" width="5.3" height="5.3" fill="#2545e8"/>
<rect x="424.45" y="419.80" width="5.3" height="5.3" fill="#2545e8"/>
<rect x="400.05" y="447.15" width="5.3" height="5.3" fill="#2545e8"/>
<rect x="406.25" y="447.15" width="5.3" height="5.3" fill="#2545e8"/>
<rect x="412.45" y="447.15" width="5.3" height="5.3" fill="#2545e8"/>
<rect x="418.65" y="447.15" width="5.3" height="5.3" fill="#2545e8"/>
<rect x="424.85" y="447.15" width="5.3" height="5.3" fill="#2545e8"/>
<path d="M399.40,412.00H430.60" stroke="#2545e8" stroke-width="2.0"/>
<polygon points="414.70,329.30 415.31,331.15 417.21,330.75 415.92,332.20 417.21,333.65 415.31,333.25 414.70,335.10 414.09,333.25 412.19,333.65 413.48,332.20 412.19,330.75 414.09,331.15" fill="#111" stroke="#111" stroke-width="0.5" stroke-linejoin="round"/>
<path d="M452.60,337.70L455.30,340.40L452.60,343.10L449.90,340.40Z" fill="#cc2b22"/>
<path d="M460.40,337.70L463.10,340.40L460.40,343.10L457.70,340.40Z" fill="#cc2b22"/>
<path d="M452.60,351.38L455.30,354.07L452.60,356.77L449.90,354.07Z" fill="#cc2b22"/>
<path d="M460.40,351.38L463.10,354.07L460.40,356.77L457.70,354.07Z" fill="#cc2b22"/>
<path d="M456.40,365.05L459.10,367.75L456.40,370.45L453.70,367.75Z" fill="#cc2b22"/>
<path d="M452.60,378.73L455.30,381.43L452.60,384.12L449.90,381.43Z" fill="#cc2b22"/>
<path d="M460.40,378.73L463.10,381.43L460.40,384.12L457.70,381.43Z" fill="#cc2b22"/>
<path d="M452.60,392.40L455.30,395.10L452.60,397.80L449.90,395.10Z" fill="#cc2b22"/>
<path d="M460.40,392.40L463.10,395.10L460.40,397.80L457.70,395.10Z" fill="#cc2b22"/>
<path d="M452.60,419.75L455.30,422.45L452.60,425.15L449.90,422.45Z" fill="#cc2b22"/>
<path d="M460.40,419.75L463.10,422.45L460.40,425.15L457.70,422.45Z" fill="#cc2b22"/>
<path d="M456.40,433.43L459.10,436.12L456.40,438.82L453.70,436.12Z" fill="#cc2b22"/>
<path d="M444.80,447.10L447.50,449.80L444.80,452.50L442.10,449.80Z" fill="#cc2b22"/>
<path d="M452.60,447.10L455.30,449.80L452.60,452.50L449.90,449.80Z" fill="#cc2b22"/>
<path d="M460.40,447.10L463.10,449.80L460.40,452.50L457.70,449.80Z" fill="#cc2b22"/>
<path d="M468.60,447.10L471.30,449.80L468.60,452.50L465.90,449.80Z" fill="#cc2b22"/>
<path d="M441.00,398.40H471.50" stroke="#cc2b22" stroke-width="2.0"/>
<polygon points="456.40,329.30 457.01,331.15 458.91,330.75 457.62,332.20 458.91,333.65 457.01,333.25 456.40,335.10 455.79,333.25 453.89,333.65 455.18,332.20 453.89,330.75 455.79,331.15" fill="#111" stroke="#111" stroke-width="0.5" stroke-linejoin="round"/>
<path d="M482.60,337.90L488.20,337.90L485.40,342.90Z" fill="#8447e6"/>
<path d="M490.50,337.90L496.10,337.90L493.30,342.90Z" fill="#8447e6"/>
<path d="M498.30,337.90L503.90,337.90L501.10,342.90Z" fill="#8447e6"/>
<path d="M506.50,337.90L512.10,337.90L509.30,342.90Z" fill="#8447e6"/>
<path d="M481.80,351.57L487.40,351.57L484.60,356.57Z" fill="#8447e6"/>
<path d="M488.70,351.57L494.30,351.57L491.50,356.57Z" fill="#8447e6"/>
<path d="M495.60,351.57L501.20,351.57L498.40,356.57Z" fill="#8447e6"/>
<path d="M502.50,351.57L508.10,351.57L505.30,356.57Z" fill="#8447e6"/>
<path d="M509.20,351.57L514.80,351.57L512.00,356.57Z" fill="#8447e6"/>
<path d="M490.50,365.25L496.10,365.25L493.30,370.25Z" fill="#8447e6"/>
<path d="M498.30,365.25L503.90,365.25L501.10,370.25Z" fill="#8447e6"/>
<path d="M494.80,392.60L500.40,392.60L497.60,397.60Z" fill="#8447e6"/>
<path d="M494.80,419.95L500.40,419.95L497.60,424.95Z" fill="#8447e6"/>
<path d="M494.80,433.62L500.40,433.62L497.60,438.62Z" fill="#8447e6"/>
<path d="M490.50,447.30L496.10,447.30L493.30,452.30Z" fill="#8447e6"/>
<path d="M498.30,447.30L503.90,447.30L501.10,452.30Z" fill="#8447e6"/>
<path d="M481.70,375.80H513.60" stroke="#8447e6" stroke-width="2.0"/>
<text x="497.40" y="334.70" font-size="13.5" text-anchor="middle" fill="#111" stroke="#111" stroke-width="0.5">#</text>
</svg></body></html>
